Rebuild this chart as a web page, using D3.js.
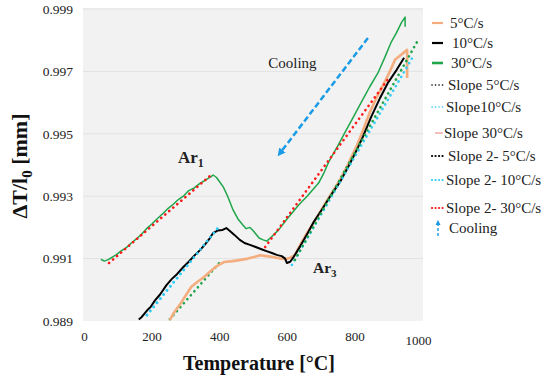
<!DOCTYPE html>
<html><head><meta charset="utf-8">
<script src="https://cdn.jsdelivr.net/npm/d3@7"></script>
<style>body{margin:0;background:#fff}svg{display:block}</style>
</head><body>
<svg id="c" width="550" height="378"></svg>
<script>
const xTicks = [0, 200, 400, 600, 800, 1000];
const yTicks = [0.989, 0.991, 0.993, 0.995, 0.997, 0.999];

const rate5 = [[254,0.98903],[265,0.98925],[275,0.98940],[287,0.98958],[300,0.98980],[317,0.99009],[335,0.99025],[355,0.99041],[375,0.99060],[393,0.99076],[414,0.99089],[440,0.99092],[464,0.99096],[485,0.99100],[503,0.99105],[521,0.99111],[540,0.99108],[559,0.99105],[580,0.99100],[601,0.99099],[612,0.99104],[624,0.99111],[640,0.99145],[660,0.99182],[685,0.99225],[707,0.99265],[730,0.99305],[757,0.99352],[780,0.99400],[808,0.99464],[825,0.99510],[846,0.99570],[865,0.99615],[885,0.99656],[905,0.99700],[920,0.99737],[941,0.99756],[956,0.99769],[956,0.99679]];
const rate10 = [[162,0.98905],[170,0.98912],[180,0.98925],[190,0.98938],[197,0.98945],[210,0.98966],[225,0.98985],[244,0.99015],[260,0.99035],[275,0.99050],[294,0.99073],[310,0.99090],[325,0.99108],[344,0.99128],[360,0.99148],[372,0.99165],[382,0.99182],[395,0.99190],[410,0.99192],[421,0.99198],[430,0.99190],[445,0.99176],[461,0.99160],[475,0.99150],[491,0.99144],[508,0.99137],[525,0.99130],[540,0.99124],[556,0.99118],[570,0.99112],[585,0.99108],[595,0.99100],[600,0.99086],[610,0.99090],[620,0.99105],[640,0.99140],[660,0.99178],[680,0.99218],[707,0.99262],[730,0.99302],[757,0.99345],[787,0.99405],[810,0.99455],[825,0.99490],[850,0.99555],[876,0.99615],[900,0.99665],[925,0.99705],[947,0.99744]];
const rate30 = [[50,0.99098],[60,0.99092],[70,0.99096],[80,0.99102],[95,0.99112],[110,0.99125],[126,0.99136],[140,0.99150],[155,0.99163],[170,0.99178],[185,0.99196],[200,0.99210],[215,0.99226],[235,0.99246],[250,0.99262],[265,0.99275],[280,0.99290],[294,0.99300],[310,0.99318],[325,0.99326],[344,0.99342],[360,0.99352],[375,0.99362],[382,0.99368],[392,0.99360],[400,0.99348],[412,0.99330],[425,0.99300],[441,0.99256],[455,0.99228],[470,0.99208],[480,0.99196],[491,0.99200],[500,0.99190],[518,0.99166],[530,0.99160],[541,0.99156],[555,0.99170],[576,0.99192],[600,0.99226],[620,0.99252],[635,0.99272],[660,0.99300],[680,0.99325],[694,0.99342],[710,0.99375],[724,0.99410],[750,0.99460],[773,0.99506],[800,0.99560],[821,0.99602],[845,0.99650],[871,0.99698],[890,0.99745],[909,0.99794],[925,0.99825],[940,0.99858],[950,0.99874],[950,0.99843]];

const slopeRed1 = [[74,0.99086],[376,0.99368]];
const slopeRed2 = [[536,0.99137],[905,0.99683]];
const slopeCyan1 = [[186,0.98919],[399,0.99202]];
const slopeCyan2 = [[615,0.99080],[973,0.99747]];
const slopeGreen1 = [[254,0.98906],[405,0.99092]];
const slopeGreen2 = [[624,0.99096],[985,0.99794]];
const coolingArrow = [[840,0.99807],[580,0.99438]];

const legendLabels = ["5°C/s","10°C/s","30°C/s","Slope 5°C/s","Slope10°C/s","Slope 30°C/s","Slope 2- 5°C/s","Slope 2-  10°C/s","Slope 2- 30°C/s","Cooling"];

const C = {orange:"#f4ad7f", black:"#000", green:"#1fa64a", cyan:"#33ccf5", red:"#ff1a1a", salmon:"#f5a0a0", blue:"#1a9be6"};

const svg = d3.select("#c");
const L = 84, R = 422, T = 9, B = 321;
const x = d3.scaleLinear().domain([0,1000]).range([L,R]);
const y = d3.scaleLinear().domain([0.989,0.999]).range([B,T]);

svg.append("rect").attr("x",83).attr("y",8).attr("width",340).attr("height",313).attr("fill","#f2f2f2");
svg.append("g").selectAll("line").data(yTicks.slice(1)).join("line")
  .attr("x1",83).attr("x2",423).attr("y1",d=>y(d)).attr("y2",d=>y(d))
  .attr("stroke","#e2e2e2").attr("stroke-width",1);

const yAxis = svg.append("g").attr("transform",`translate(${L},0)`)
  .call(d3.axisLeft(y).tickValues(yTicks).tickFormat(d3.format(".3f")).tickSize(0).tickPadding(11));
yAxis.select(".domain").remove();
yAxis.selectAll("text").attr("font-size","13.5px").attr("fill","#222");

const xAxis = svg.append("g").attr("transform",`translate(0,${B})`)
  .call(d3.axisBottom(x).tickValues(xTicks).tickFormat(d3.format("d")).tickSize(0).tickPadding(11));
xAxis.select(".domain").remove();
xAxis.selectAll("text").attr("font-size","13px").attr("fill","#222");
xAxis.selectAll(".tick").filter(d=>d===1000).select("text").attr("dx","-4").attr("dy","1.0em");

const line = d3.line().x(d=>x(d[0])).y(d=>y(d[1]));

function dotted(data, color){
  svg.append("path").attr("d",line(data)).attr("fill","none").attr("stroke",color)
    .attr("stroke-width",2.6).attr("stroke-linecap","round").attr("stroke-dasharray","0.1,5.2");
}
dotted(slopeGreen1, C.green);
dotted(slopeCyan1, C.cyan);

svg.append("path").attr("d",line(rate5)).attr("fill","none").attr("stroke",C.orange).attr("stroke-width",2.6).attr("stroke-linejoin","round");
svg.append("path").attr("d",line(rate10)).attr("fill","none").attr("stroke",C.black).attr("stroke-width",2).attr("stroke-linejoin","round");
svg.append("path").attr("d",line(rate30)).attr("fill","none").attr("stroke",C.green).attr("stroke-width",1.5).attr("stroke-linejoin","round");

dotted(slopeRed1, C.red);
dotted(slopeRed2, C.red);
dotted(slopeCyan2, C.cyan);
dotted(slopeGreen2, C.green);
dotted(slopeCyan1, C.cyan);

const defs = svg.append("defs");
defs.append("marker").attr("id","ah").attr("viewBox","0 0 10 10").attr("refX",5).attr("refY",5)
  .attr("markerWidth",3.2).attr("markerHeight",3.2).attr("orient","auto")
  .append("path").attr("d","M0,0 L10,5 L0,10 z").attr("fill",C.blue);
svg.append("path").attr("d",line(coolingArrow)).attr("fill","none").attr("stroke",C.blue)
  .attr("stroke-width",2.5).attr("stroke-dasharray","6,3").attr("marker-end","url(#ah)");

svg.append("text").attr("x",x(545)).attr("y",y(0.99710)).attr("font-size","15px").attr("fill","#222").text("Cooling");

const ar1 = svg.append("text").attr("x",178).attr("y",163).attr("font-size","17px").attr("font-weight","bold").attr("fill","#222");
ar1.append("tspan").text("Ar");
ar1.append("tspan").attr("font-size","12px").attr("dy","4").text("1");
const ar3 = svg.append("text").attr("x",313).attr("y",273).attr("font-size","15.5px").attr("font-weight","bold").attr("fill","#222");
ar3.append("tspan").text("Ar");
ar3.append("tspan").attr("font-size","11px").attr("dy","4").text("3");

svg.append("text").attr("x",259).attr("y",370).attr("text-anchor","middle").attr("font-size","20px").attr("font-weight","bold").attr("fill","#111").text("Temperature [°C]");
const yt = svg.append("text").attr("transform","translate(27,166) rotate(-90)").attr("text-anchor","middle").attr("font-size","22px").attr("font-weight","bold").attr("fill","#111");
yt.append("tspan").text("ΔT/l");
yt.append("tspan").attr("font-size","15px").attr("dy","5").text("0");
yt.append("tspan").attr("dy","-5").text(" [mm]");

const legY = [23,43,63,85,107,133,156,180,208,228];
const legX = [450,452,451,448,446,444,448,446,446,449];
const legend = svg.append("g");
legendLabels.forEach((lab,i)=>{
  legend.append("text").attr("x",legX[i]).attr("y",legY[i]).attr("dy","0.35em").attr("font-size","15px").attr("fill","#222").text(lab);
});
const sym = (i,color,w,dash)=>{
  const l = legend.append("line").attr("x1",432).attr("x2",443).attr("y1",legY[i]).attr("y2",legY[i])
    .attr("stroke",color).attr("stroke-width",w);
  if(dash) l.attr("stroke-dasharray",dash).attr("stroke-linecap","round");
  return l;
};
sym(0,C.orange,2.2); sym(1,C.black,2.2); sym(2,C.green,2.6);
sym(3,C.black,1.6,"0.1,3.4"); sym(4,C.cyan,1.6,"0.1,3.4"); sym(5,C.salmon,1.4).attr("x1",435);
sym(6,C.black,2.2,"0.1,3.4"); sym(7,C.cyan,2.2,"0.1,3.4"); sym(8,C.red,2.2,"0.1,3.4");
legend.append("line").attr("x1",438).attr("x2",438).attr("y1",236).attr("y2",224).attr("stroke",C.blue)
  .attr("stroke-width",1.4).attr("stroke-dasharray","3,2");
legend.append("path").attr("d","M435.5,225 L438,220 L440.5,225 Z").attr("fill",C.blue);

svg.selectAll("text").style("font-family",'"Liberation Serif"');
</script>
</body></html>
